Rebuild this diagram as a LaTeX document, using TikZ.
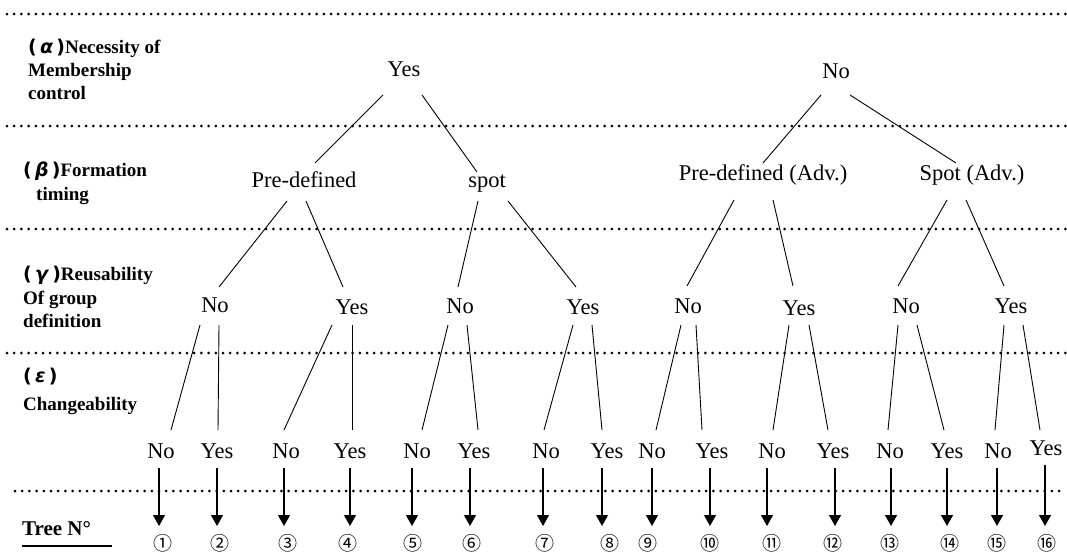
\documentclass[tikz,border=0pt]{standalone}
\usepackage{fontspec}
\setmainfont{Liberation Serif}
\newfontfamily\gkfont{DejaVu Sans}
\newfontfamily\cjkfont{Noto Sans CJK JP}
\usetikzlibrary{arrows.meta}
\newcommand\tedge[4]{\draw[edgeline] ([shift={(#2)}]#1.base) -- ([shift={(#4)}]#3.base);}
\newcommand\gkl[1]{{\gkfont\bfseries(\,\textit{#1}\,)}}
\begin{document}
\begin{tikzpicture}[x=1pt,y=-1pt,
  dotline/.style={line width=3pt, line cap=round, dash pattern=on 0pt off 7.2pt},
  val/.style={anchor=base, inner sep=0pt, font=\fontsize{22.5}{22.5}\selectfont},
  hdr/.style={anchor=base west, inner sep=0pt, font=\bfseries\fontsize{19}{19}\selectfont},
  num/.style={inner sep=0pt, font=\cjkfont\fontsize{19}{19}\selectfont},
  edgeline/.style={line width=0.9pt},
  arr/.style={line width=1.2pt, -{Triangle[width=12pt,length=11pt]}}
]
\useasboundingbox (0,0) rectangle (1067,554);
% dotted separators
\foreach \yy/\xs in {14/7, 126/7, 229/7, 353/7, 491/15}
  \draw[dotline] (\xs,\yy) -- (1066,\yy);
% left headers
\node[hdr] (ha1) at (28,53) {\gkl{α}Necessity of};
\node[hdr] (ha2) at (28,76) {Membership};
\node[hdr] (ha3) at (28,99) {control};
\node[hdr] (hb1) at (23,176) {\gkl{β}Formation};
\node[hdr] (hb2) at (36,200) {timing};
\node[hdr] (hc1) at (23,280) {\gkl{γ}Reusability};
\node[hdr] (hc2) at (23,304) {Of group};
\node[hdr] (hc3) at (23,327) {definition};
\node[hdr] (hd1) at (23,382) {\gkl{ε}};
\node[hdr] (hd2) at (23,410) {Changeability};
\node[hdr, font=\bfseries\fontsize{21}{21}\selectfont] (tree) at (22,535) {Tree N°};
\draw[line width=1.2pt] ([yshift=-11pt]tree.base west) -- ++(90,0);
% level 1
\node[val] (a1) at (404,76) {Yes};
\node[val] (a2) at (836,78) {No};
% level 2
\node[val] (b1) at (304,187) {Pre-defined};
\node[val] (b2) at (487,187) {spot};
\node[val] (b3) at (763,180) {Pre-defined (Adv.)};
\node[val] (b4) at (972,180) {Spot (Adv.)};
% level 3
\node[val] (c1) at (215,312) {No};
\node[val] (c2) at (352,314) {Yes};
\node[val] (c3) at (460,313) {No};
\node[val] (c4) at (583,314) {Yes};
\node[val] (c5) at (688,313) {No};
\node[val] (c6) at (799,315) {Yes};
\node[val] (c7) at (906,313) {No};
\node[val] (c8) at (1011,313) {Yes};
% level 4, arrows and tree numbers
\foreach \i/\lab/\x/\y/\ax/\nx/\n in {
  1/No/161/458/159/163/①, 2/Yes/217/458/217/220/②,
  3/No/286/458/284/288/③, 4/Yes/350/458/350/348/④,
  5/No/417/458/412/413/⑤, 6/Yes/474/458/470/472/⑥,
  7/No/546/458/543/545/⑦, 8/Yes/607/458/602/610/⑧,
  9/No/652/458/652/648/⑨, 10/Yes/712/458/710/710/⑩,
  11/No/772/458/767/772/⑪, 12/Yes/833/458/835/833/⑫,
  13/No/890/458/891/890/⑬, 14/Yes/947/458/947/950/⑭,
  15/No/998/458/997/997/⑮, 16/Yes/1046/455/1045/1047/⑯}{
  \node[val] (d\i) at (\x,\y) {\lab};
  \node[num] (t\i) at (\nx,543) {\n};
  \draw[arr] ([shift={(\ax-\x,10)}]d\i.base) -- ([shift={(\ax-\nx,-17)}]t\i.center);
}
% level 1 -> 2
\tedge{a1}{-21,19}{b1}{11,-24}
\tedge{a1}{18,19}{b2}{-10,-15}
\tedge{a2}{-15,17}{b3}{0,-17}
\tedge{a2}{14,17}{b4}{-16,-17}
% level 2 -> 3
\tedge{b1}{-17,14}{c1}{4,-25}
\tedge{b1}{2,14}{c2}{-9,-27}
\tedge{b2}{-9,14}{c3}{-2,-26}
\tedge{b2}{21,14}{c4}{-7,-27}
\tedge{b3}{-29,20}{c5}{-1,-27}
\tedge{b3}{10,20}{c6}{-6,-29}
\tedge{b4}{-25,20}{c7}{-8,-27}
\tedge{b4}{-6,20}{c8}{-7,-27}
% level 3 -> 4
\tedge{c1}{-15,13}{d1}{10,-28}
\tedge{c1}{4,13}{d2}{1,-28}
\tedge{c2}{-20,11}{d3}{-2,-28}
\tedge{c2}{0,11}{d4}{2,-28}
\tedge{c3}{-12,12}{d5}{5,-28}
\tedge{c3}{7,12}{d6}{4,-28}
\tedge{c4}{-10,11}{d7}{-2,-28}
\tedge{c4}{9,11}{d8}{-5,-28}
\tedge{c5}{-7,12}{d9}{4,-28}
\tedge{c5}{8,12}{d10}{-10,-28}
\tedge{c6}{-10,10}{d11}{1,-28}
\tedge{c6}{10,10}{d12}{-5,-28}
\tedge{c7}{-8,12}{d13}{-2,-28}
\tedge{c7}{11,12}{d14}{-3,-28}
\tedge{c8}{-7,12}{d15}{-3,-28}
\tedge{c8}{12,12}{d16}{-6,-25}
\end{tikzpicture}
\end{document}
